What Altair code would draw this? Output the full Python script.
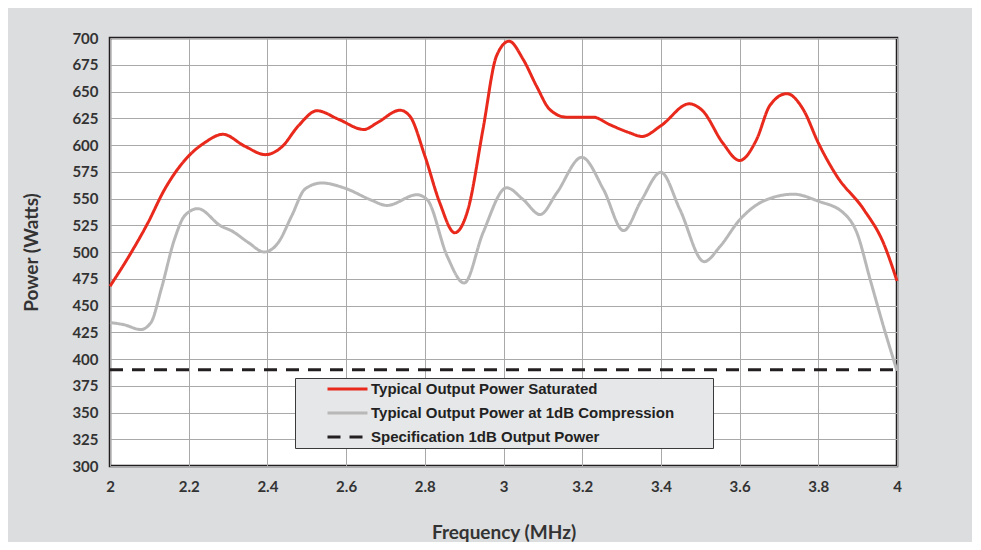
import altair as alt
import pandas as pd

series_names = [
    "Typical Output Power Saturated",
    "Typical Output Power at 1dB Compression",
    "Specification 1dB Output Power",
]
series_colors = ["#e8291c", "#b8b8b8", "#231f20"]

sat_freq = [2.0, 2.053, 2.096, 2.138, 2.198, 2.24, 2.287, 2.342, 2.395, 2.436, 2.479,
            2.526, 2.581, 2.645, 2.68, 2.737, 2.762, 2.8, 2.838, 2.876, 2.91, 2.948,
            2.982, 3.014, 3.05, 3.084, 3.118, 3.16, 3.228, 3.27, 3.32, 3.352, 3.4,
            3.472, 3.506, 3.557, 3.6, 3.643, 3.677, 3.72, 3.762, 3.8, 3.847, 3.915,
            3.966, 4.0]
sat_power = [468, 499, 527, 558, 589, 602, 610, 599, 591, 598, 618,
             632, 624, 614.5, 621, 632.5, 627, 590, 546, 518, 540, 615,
             683, 697, 680, 655, 633, 626, 626, 619, 611.5, 608, 618,
             638.5, 632, 602, 585.5, 605, 637, 648, 633, 602, 571, 540,
             508, 473]

cmp_freq = [2.0, 2.036, 2.078, 2.104, 2.13, 2.164, 2.19, 2.223, 2.283, 2.308, 2.351,
            2.392, 2.428, 2.462, 2.496, 2.538, 2.598, 2.661, 2.704, 2.78, 2.806,
            2.857, 2.9, 2.948, 3.008, 3.05, 3.093, 3.135, 3.199, 3.254, 3.305,
            3.35, 3.4, 3.448, 3.51, 3.55, 3.6, 3.66, 3.737, 3.8, 3.864, 3.898,
            3.932, 3.966, 4.0]
cmp_power = [434, 432, 427.5, 434, 465, 512, 534, 540.5, 524, 520, 509,
             500, 509, 534, 559, 564.5, 559.5, 549, 543.5, 553.5, 549,
             496, 471, 518, 560, 549, 535, 555, 588.5, 558.5, 520,
             548, 574.5, 540, 491, 505, 530, 547.5, 554, 547.5, 536.5, 518,
             474, 430, 389]

spec_freq = [2.0, 4.0]
spec_power = [390, 390]

x_ticks = [2.0, 2.2, 2.4, 2.6, 2.8, 3.0, 3.2, 3.4, 3.6, 3.8, 4.0]
y_ticks = list(range(300, 701, 25))

frames = []
for name, fx, fy in zip(series_names,
                        [sat_freq, cmp_freq, spec_freq],
                        [sat_power, cmp_power, spec_power]):
    frames.append(pd.DataFrame({"freq": fx, "power": fy, "series": name}))
df = pd.concat(frames, ignore_index=True)

legend_def = alt.Legend(title=" ", titleOrient="right", titlePadding=36,
                        titleFontSize=2)

chart = alt.Chart(df).mark_line(interpolate="monotone", strokeWidth=3).encode(
    x=alt.X("freq:Q",
            scale=alt.Scale(domain=[2, 4], nice=False, zero=False),
            axis=alt.Axis(values=x_ticks, format="~g", title="Frequency (MHz)",
                          labelPadding=13, titlePadding=29, labelFlush=False)),
    y=alt.Y("power:Q",
            scale=alt.Scale(domain=[300, 700], nice=False, zero=False),
            axis=alt.Axis(values=y_ticks, format="d", title="Power (Watts)",
                          labelPadding=12, titlePadding=30)),
    color=alt.Color("series:N",
                    scale=alt.Scale(domain=series_names, range=series_colors),
                    sort=series_names,
                    legend=legend_def),
    strokeDash=alt.StrokeDash("series:N",
                              scale=alt.Scale(domain=series_names,
                                              range=[[1, 0], [1, 0], [13, 9]]),
                              sort=series_names,
                              legend=legend_def),
    order=alt.Order("freq:Q"),
).properties(
    width=787,
    height=428,
    background="#dcdddf",
    padding={"left": 102, "top": 30, "right": 75, "bottom": 76},
    autosize=alt.AutoSizeParams(type="none"),
).configure_view(
    fill="white",
    stroke="#231f20",
    strokeWidth=2.5,
).configure_axis(
    domain=False,
    ticks=False,
    tickSize=0,
    grid=True,
    gridColor="#a9a9a9",
    gridWidth=1,
    labelFont="Lato",
    labelFontWeight="bold",
    labelFontSize=15,
    labelColor="#333333",
    titleFont="Lato",
    titleFontWeight="bold",
    titleFontSize=19,
    titleColor="#333333",
).configure_legend(
    orient="none",
    legendX=185,
    legendY=340,
    fillColor="#e6e7e8",
    strokeColor="#3a3a3a",
    padding=3,
    labelFont="Liberation Sans",
    labelFontWeight="bold",
    labelFontSize=15,
    labelColor="#222222",
    labelLimit=500,
    labelOffset=2,
    symbolType="stroke",
    symbolSize=1600,
    symbolStrokeWidth=3,
    symbolOffset=28,
    clipHeight=16,
    rowPadding=8,
)

chart.save("out.html", embed_options={"renderer": "svg", "actions": False})
